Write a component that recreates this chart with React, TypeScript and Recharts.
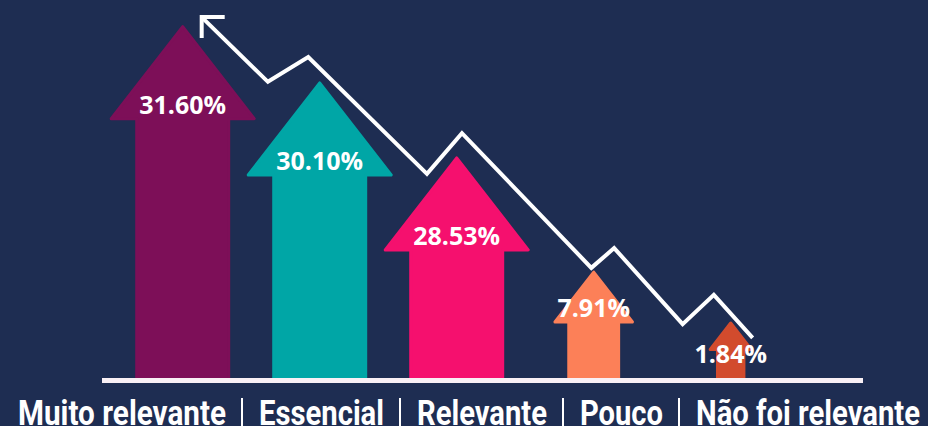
import React from 'react';
import { ComposedChart, Bar, Cell, Line, XAxis, YAxis, ReferenceLine } from 'recharts';

const categories = ['Muito relevante', 'Essencial', 'Relevante', 'Pouco', 'Não foi relevante'];
const shares = [31.6, 30.1, 28.53, 7.91, 1.84];
// arrow heights as drawn in the graphic (0-100 scale) - not proportional to the share
const arrowLevels = [93.0, 78.2, 58.5, 28.5, 15.1];
const arrowColors = ['#7d0f58', '#00a6a6', '#f5106e', '#fc8058', '#d24b2d'];

// decorative zig-zag trend arrow: x in % of plot width, y on the same 0-100 scale
const trendX = [13.1, 21.8, 27.1, 42.7, 47.3, 64.3, 67.3, 76.3, 80.4, 85.5];
const trendY = [95.5, 78.5, 85.0, 54.3, 65.0, 29.6, 34.8, 14.8, 22.5, 11.2];

const BG = '#1e2d52';
const WHITE = '#ffffff';

const chartData = categories.map((name, i) => ({ name, share: shares[i], level: arrowLevels[i] }));
const trendData = trendX.map((x, i) => ({ x, y: trendY[i] }));

const ArrowShape = (props: any) => {
    const { x, y, width, height, fill, payload } = props;
    const cx = x + width / 2;
    const base = y + height;
    // small arrows are scaled-down copies of the big ones
    const s = Math.min(1, height / 200);
    const headW = 143 * s;
    const shaftW = 92 * s;
    const headH = 92 * s;
    const hb = y + headH;
    const d = `M${cx},${y} L${cx + headW / 2},${hb} L${cx + shaftW / 2},${hb} L${cx + shaftW / 2},${base} L${cx - shaftW / 2},${base} L${cx - shaftW / 2},${hb} L${cx - headW / 2},${hb} Z`;
    const labelY = Math.max(hb - 15, y + 30);
    return (
        <g>
            <path d={d} fill={fill} stroke={fill} strokeWidth={3} strokeLinejoin="round" />
            <text
                x={cx}
                y={labelY}
                textAnchor="middle"
                dominantBaseline="central"
                fill={WHITE}
                fontFamily="'Open Sans', sans-serif"
                fontWeight={700}
                fontSize={25}
            >
                {payload.share.toFixed(2)}%
            </text>
        </g>
    );
};

const TrendTip = (props: any) => {
    const { cx, cy, index } = props;
    if (index !== 0) return <g key={`t-${index}`} />;
    return (
        <path
            key="tip"
            d={`M${cx + 23},${cy} L${cx},${cy} L${cx},${cy + 21}`}
            fill="none"
            stroke={WHITE}
            strokeWidth={4}
        />
    );
};

// bottom label row, squeezed to look like the condensed face of the original
const labelWidths = [208, 125, 130, 83, 224];

const LabelRow = () => {
    let cursor = 18;
    const items: React.ReactNode[] = [];
    categories.forEach((c, i) => {
        items.push(
            <text
                key={c}
                x={cursor}
                y={425}
                textLength={labelWidths[i]}
                lengthAdjust="spacingAndGlyphs"
                fill={WHITE}
                fontFamily="Roboto, sans-serif"
                fontWeight={700}
                fontSize={35}
            >
                {c}
            </text>
        );
        cursor += labelWidths[i] + 16;
        if (i < categories.length - 1) {
            items.push(<line key={`s${i}`} x1={cursor} x2={cursor} y1={398} y2={426} stroke={WHITE} strokeWidth={2} />);
            cursor += 17;
        }
    });
    return (
        <svg width={928} height={426} style={{ position: 'absolute', left: 0, top: 0, pointerEvents: 'none' }}>
            {items}
        </svg>
    );
};

export default function App() {
    return (
        <div style={{ position: 'absolute', left: 0, top: 0, width: 928, height: 426, background: BG, overflow: 'hidden' }}>
            <ComposedChart width={928} height={426} data={chartData} margin={{ top: 0, right: 65, bottom: 45.5, left: 102 }}>
                <XAxis dataKey="name" hide padding={{ left: 12, right: 64 }} />
                <XAxis xAxisId="trend" type="number" dataKey="x" domain={[0, 100]} hide />
                <YAxis hide domain={[0, 100]} />
                <Bar dataKey="level" shape={<ArrowShape />} isAnimationActive={false}>
                    {chartData.map((d, i) => (
                        <Cell key={d.name} fill={arrowColors[i]} />
                    ))}
                </Bar>
                <Line
                    data={trendData}
                    xAxisId="trend"
                    dataKey="y"
                    type="linear"
                    stroke={WHITE}
                    strokeWidth={4}
                    dot={TrendTip}
                    activeDot={false}
                    isAnimationActive={false}
                />
                <ReferenceLine y={0} stroke="#f9f0f5" strokeWidth={5} />
            </ComposedChart>
            <LabelRow />
        </div>
    );
}
